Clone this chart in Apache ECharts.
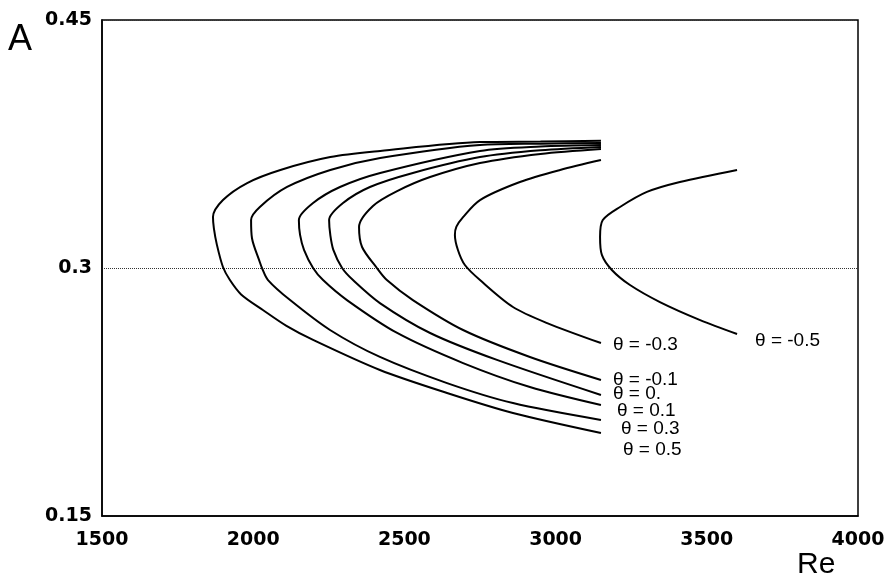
<!DOCTYPE html>
<html><head><meta charset="utf-8">
<script src="https://cdn.jsdelivr.net/npm/echarts@6/dist/echarts.min.js"></script>
<style>html,body{margin:0;padding:0;background:#fff}#c{width:889px;height:584px}</style>
</head><body><div id="c"></div>
<script>
// Re, A pairs along each neutral curve (upper branch end -> nose -> lower branch end)
const curveT05 = [[3150,0.377],[2950,0.3765],[2750,0.3762],[2420,0.3708],[2255,0.3671],[2090,0.3593],[1980,0.3514],[1900,0.3411],[1867,0.3308],[1870,0.324],[1880,0.314],[1900,0.3006],[1923,0.2927],[1960,0.284],[2032,0.2746],[2110,0.265],[2198,0.2565],[2419,0.2383],[2641,0.2244],[2859,0.2123],[3150,0.2002]];
const curveT03 = [[3150,0.3756],[2950,0.3752],[2750,0.3744],[2420,0.3665],[2255,0.3593],[2112,0.349],[2022,0.3369],[1993,0.329],[1996,0.318],[2022,0.3035],[2029,0.300],[2049,0.2927],[2122,0.2806],[2254,0.2625],[2419,0.2462],[2641,0.2304],[2859,0.2183],[3150,0.2081]];
const curveT01 = [[3150,0.3744],[2950,0.3735],[2750,0.3708],[2420,0.3575],[2287,0.349],[2198,0.3393],[2151,0.329],[2155,0.320],[2168,0.311],[2198,0.300],[2231,0.2927],[2310,0.2806],[2476,0.2607],[2694,0.2425],[2915,0.228],[3150,0.2171]];
const curveT00 = [[3150,0.3732],[2950,0.3712],[2750,0.3671],[2528,0.3575],[2386,0.349],[2297,0.3393],[2251,0.329],[2255,0.320],[2265,0.311],[2294,0.300],[2330,0.2927],[2419,0.2788],[2585,0.2607],[2806,0.2444],[3150,0.2232]];
const curveTm01 = [[3150,0.372],[2950,0.369],[2750,0.3635],[2585,0.355],[2476,0.3465],[2396,0.3375],[2350,0.3248],[2360,0.3127],[2409,0.300],[2442,0.2927],[2528,0.2806],[2694,0.2625],[2915,0.2462],[3150,0.2323]];
const curveTm03 = [[3150,0.3653],[3015,0.3593],[2882,0.352],[2750,0.3411],[2694,0.3308],[2672,0.325],[2667,0.320],[2677,0.3109],[2700,0.3018],[2750,0.2927],[2859,0.2764],[2972,0.2667],[3150,0.2546]];
const curveTm05 = [[3600,0.3593],[3411,0.352],[3302,0.346],[3213,0.3369],[3156,0.329],[3147,0.3187],[3153,0.3079],[3186,0.2988],[3246,0.2897],[3345,0.2794],[3478,0.2685],[3600,0.2601]];
const curveLabels = ['θ = -0.5','θ = -0.3','θ = -0.1','θ = 0.','θ = 0.1','θ = 0.3','θ = 0.5'];
const xTicks = [1500,2000,2500,3000,3500,4000];
const yTicks = [0.15,0.3,0.45];

const curves = [curveTm05,curveTm03,curveTm01,curveT00,curveT01,curveT03,curveT05];
const labelOffsets = [[0,7],[0,2],[0,0],[0,-1],[4,6],[8,9],[10,17]];
const labelDist = [18,12,12,12,12,12,12];

const chart = echarts.init(document.getElementById('c'), null, {renderer:'canvas'});
const tickFont = {fontFamily:'DejaVu Sans', fontWeight:'bold', fontSize:19, color:'#000'};
chart.setOption({
  animation:false,
  backgroundColor:'#fff',
  grid:{left:102,right:31,top:20,bottom:68,show:true,borderColor:'#000',borderWidth:1.5},
  xAxis:{type:'value',min:xTicks[0],max:xTicks[xTicks.length-1],interval:500,
    axisLine:{lineStyle:{color:'#000',width:1.5}},axisTick:{show:false},
    splitLine:{show:false},
    axisLabel:Object.assign({margin:15,formatter:v=>xTicks.includes(v)?String(v):''},tickFont)},
  yAxis:{type:'value',min:yTicks[0],max:yTicks[yTicks.length-1],interval:0.15,
    axisLine:{lineStyle:{color:'#000',width:1.5}},axisTick:{show:false},
    splitLine:{show:true,lineStyle:{type:'dotted',color:'#333',width:1}},
    axisLabel:Object.assign({margin:10,formatter:v=>{const f=yTicks.find(t=>Math.abs(t-v)<1e-9);return f===undefined?'':String(f);}},tickFont)},
  graphic:[
    {type:'text',left:8,top:22,style:{text:'A',font:'36px "Liberation Sans"',fill:'#000'}},
    {type:'text',left:797,top:550,style:{text:'Re',font:'30px "Liberation Sans"',fill:'#000'}}
  ],
  series:curves.map((d,i)=>({
    type:'line',data:d,showSymbol:false,smooth:0.3,
    lineStyle:{color:'#000',width:2},
    endLabel:{show:true,formatter:curveLabels[i],distance:labelDist[i],offset:labelOffsets[i],
      fontFamily:'Liberation Sans',fontSize:19,color:'#000'}
  }))
});
</script></body></html>
